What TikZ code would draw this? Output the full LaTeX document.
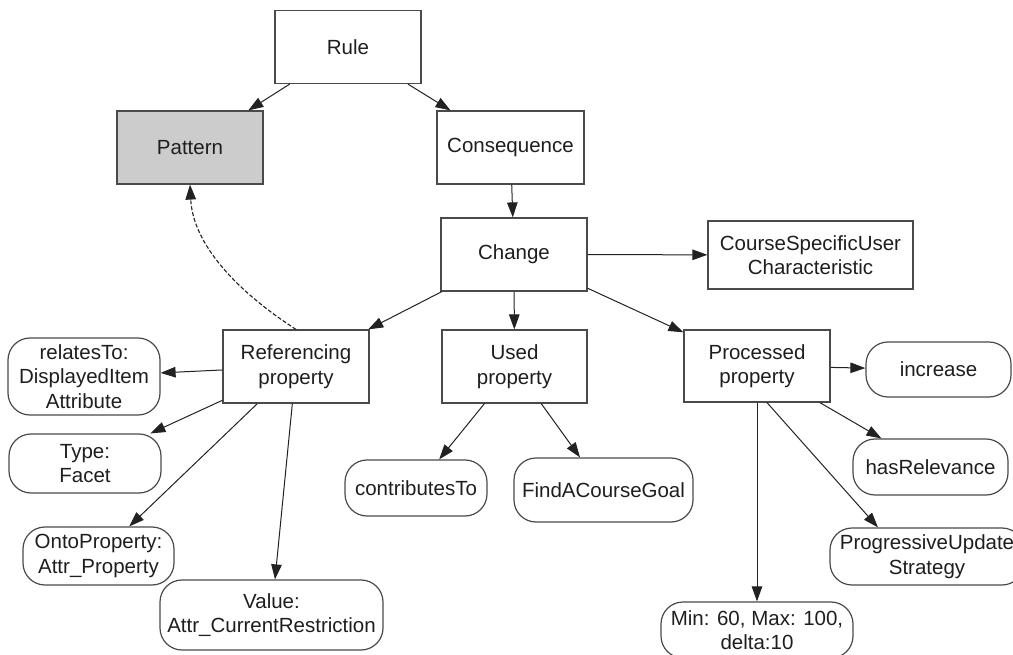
\documentclass[tikz,border=0pt]{standalone}
\usepackage{fontspec}
\setmainfont{Liberation Sans}
\usetikzlibrary{arrows.meta,calc}
\definecolor{edgec}{HTML}{222222}
\definecolor{boxc}{HTML}{4A4A4A}
\definecolor{txtc}{HTML}{1E1E1E}
\definecolor{patfill}{HTML}{CCCCCC}
\tikzset{
 base/.style={draw=boxc, line width=1.2pt, inner sep=0pt, align=center, text=txtc, font=\fontsize{20.5}{24.5}\selectfont},
 sq/.style={base, rectangle},
 rnd/.style={base, rectangle, rounded corners=22pt},
 arr/.style={draw=edgec, line width=1pt, -{Triangle[length=15pt,width=10.5pt]}},
 dsh/.style={arr, line width=1.1pt, dash pattern=on 4pt off 2pt}
}
\begin{document}
\begin{tikzpicture}[x=1pt,y=-1pt]
\useasboundingbox (0,0) rectangle (1013,655);
\clip (0,0) rectangle (1013,655);
% boxes
\node[sq, minimum width=146pt, minimum height=73pt] (rule) at (348,47) {Rule};
\node[sq, fill=patfill, minimum width=146pt, minimum height=73pt] (pattern) at (190,147.5) {Pattern};
\node[sq, minimum width=147pt, minimum height=73pt] (conseq) at (510.5,147.5) {Consequence};
\node[sq, minimum width=146pt, minimum height=73pt] (change) at (514,254.5) {Change};
\node[sq, minimum width=205pt, minimum height=68pt] (csuc) at (810.5,255) {CourseSpecificUser\\Characteristic};
\node[sq, minimum width=146pt, minimum height=73pt] (ref) at (296,366.5) {Referencing\\property};
\node[sq, minimum width=145pt, minimum height=73pt] (used) at (514.5,366.5) {Used\\property};
\node[sq, minimum width=146pt, minimum height=72pt] (proc) at (757,366) {Processed\\property};
% rounded
\node[rnd, minimum width=152pt, minimum height=77pt] (relates) at (84,376.5) {relatesTo:\\DisplayedItem\\Attribute};
\node[rnd, minimum width=152pt, minimum height=59pt] (type) at (85,463.5) {Type:\\Facet};
\node[rnd, minimum width=151pt, minimum height=58pt] (onto) at (98.5,556) {OntoProperty:\\Attr\_Property};
\node[rnd, minimum width=223pt, minimum height=70pt] (value) at (271.5,615) {Value:\\Attr\_CurrentRestriction};
\node[rnd, minimum width=142pt, minimum height=56pt] (contrib) at (416,488) {contributesTo};
\node[rnd, minimum width=179pt, minimum height=64pt] (findgoal) at (603.5,490) {FindACourseGoal};
\node[rnd, minimum width=145pt, minimum height=55pt] (increase) at (938.5,369.5) {increase};
\node[rnd, minimum width=155pt, minimum height=56pt] (hasrel) at (930.5,467) {hasRelevance};
\node[rnd, minimum width=194pt, minimum height=57pt] (prog) at (927,556.5) {ProgressiveUpdate\\Strategy};
\node[rnd, minimum width=192pt, minimum height=56pt] (minmax) at (757,630) {Min: 60, Max: 100,\\delta:10};
% connectors
\draw[arr] (rule) -- (pattern);
\draw[arr] (rule) -- (conseq);
\draw[arr] (conseq) -- (change);
\draw[arr] (change) -- (csuc);
\draw[arr] (change) -- (ref);
\draw[arr] (change) -- (used);
\draw[arr] (change) -- (proc);
\draw[dsh] (ref.north) .. controls (238,292) and (193,245) .. (pattern.south);
\draw[arr] (ref) -- (relates);
\draw[arr] (ref) -- (type);
\draw[arr] (ref) -- (onto);
\draw[arr] (ref) -- (value);
\draw[arr] (used) -- (contrib);
\draw[arr] (used) -- (findgoal);
\draw[arr] (proc) -- (increase);
\draw[arr] (proc) -- (hasrel);
\draw[arr] ($(proc.south)+(10,0)$) -- ($(prog.north)+(-49,0)$);
\draw[arr] (proc) -- (minmax);
\end{tikzpicture}
\end{document}
